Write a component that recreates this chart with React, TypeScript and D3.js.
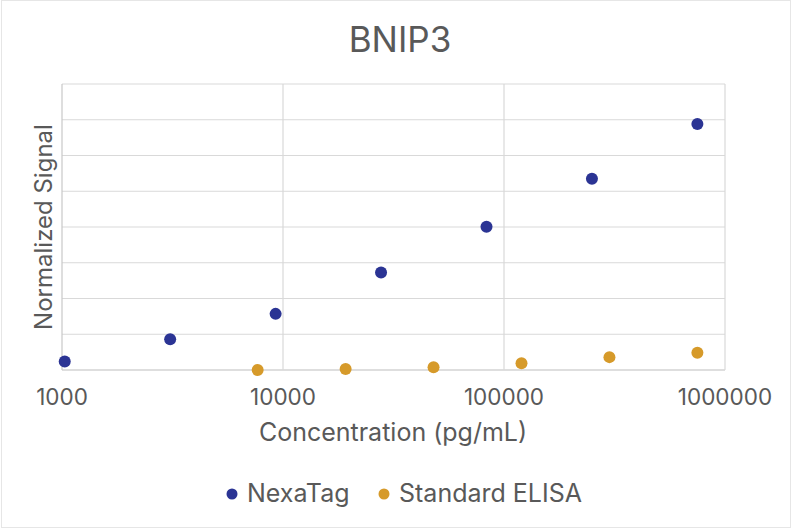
import React, { useEffect, useRef } from 'react';
import * as d3 from 'd3';

// dilution series
const nexaConc = [1029, 3086, 9259, 27778, 83333, 250000, 750000];
const nexaSignal = [0.24, 0.86, 1.57, 2.73, 4.01, 5.35, 6.88];
const elisaConc = [7680, 19200, 48000, 120000, 300000, 750000];
const elisaSignal = [0.0, 0.03, 0.08, 0.19, 0.36, 0.48];
const xTicks = [1000, 10000, 100000, 1000000];
const yTicks = [0, 1, 2, 3, 4, 5, 6, 7, 8];

const series = [
  { name: 'NexaTag', color: '#2B3494', x: nexaConc, y: nexaSignal },
  { name: 'Standard ELISA', color: '#D69A2A', x: elisaConc, y: elisaSignal },
];

const W = 800;
const H = 529;
const FONT = 'Inter, "Open Sans", sans-serif';

const App: React.FC = () => {
  const svgRef = useRef<SVGSVGElement>(null);

  useEffect(() => {
    if (!svgRef.current) return;
    const svg = d3.select(svgRef.current);
    svg.selectAll('*').remove();

    const plot = { left: 62, right: 725, top: 84, bottom: 370 };

    const x = d3.scaleLog().domain([1000, 1000000]).range([plot.left, plot.right]);
    const y = d3.scaleLinear().domain([0, 8]).range([plot.bottom, plot.top]);

    // outer frame
    svg.append('rect')
      .attr('x', 1.5).attr('y', 0.5)
      .attr('width', 789).attr('height', 527)
      .attr('fill', '#fff')
      .attr('stroke', '#e6e6e6');

    // horizontal grid
    svg.append('g').selectAll('line')
      .data(yTicks)
      .join('line')
      .attr('x1', plot.left).attr('x2', plot.right)
      .attr('y1', d => y(d)).attr('y2', d => y(d))
      .attr('stroke', d => (d === 0 ? '#bdbdbd' : '#d9d9d9'))
      .attr('stroke-width', 1.2);

    // vertical grid
    svg.append('g').selectAll('line')
      .data(xTicks)
      .join('line')
      .attr('x1', d => x(d)).attr('x2', d => x(d))
      .attr('y1', plot.top).attr('y2', plot.bottom)
      .attr('stroke', (d, i) => (i === 0 ? '#c8c8c8' : '#d9d9d9'))
      .attr('stroke-width', 1.2);

    // x tick labels
    svg.append('g').selectAll('text')
      .data(xTicks)
      .join('text')
      .attr('x', d => x(d))
      .attr('y', 405)
      .attr('text-anchor', 'middle')
      .attr('font-family', FONT)
      .attr('font-size', 22.5)
      .attr('fill', '#595959')
      .text(d => String(d));

    // titles
    svg.append('text')
      .attr('x', 400).attr('y', 52)
      .attr('text-anchor', 'middle')
      .attr('font-family', FONT)
      .attr('font-size', 35)
      .attr('fill', '#595959')
      .text('BNIP3');

    svg.append('text')
      .attr('x', 393).attr('y', 441)
      .attr('text-anchor', 'middle')
      .attr('font-family', FONT)
      .attr('font-size', 25)
      .attr('fill', '#595959')
      .text('Concentration (pg/mL)');

    svg.append('text')
      .attr('transform', `translate(52,${(plot.top + plot.bottom) / 2}) rotate(-90)`)
      .attr('text-anchor', 'middle')
      .attr('font-family', FONT)
      .attr('font-size', 24)
      .attr('fill', '#595959')
      .text('Normalized Signal');

    // points
    series.forEach(s => {
      svg.append('g').selectAll('circle')
        .data(s.x.map((cx, i) => [cx, s.y[i]]))
        .join('circle')
        .attr('cx', d => x(d[0]))
        .attr('cy', d => y(d[1]))
        .attr('r', 6)
        .attr('fill', s.color);
    });

    // legend
    const legend = svg.append('g');
    const legendX = [232, 384];
    series.forEach((s, i) => {
      legend.append('circle')
        .attr('cx', legendX[i]).attr('cy', 494)
        .attr('r', 5.5)
        .attr('fill', s.color);
      legend.append('text')
        .attr('x', legendX[i] + 15).attr('y', 502)
        .attr('font-family', FONT)
        .attr('font-size', 25)
        .attr('fill', '#595959')
        .text(s.name);
    });
  }, []);

  return (
    <svg
      ref={svgRef}
      width={W}
      height={H}
      style={{ position: 'absolute', left: 0, top: 0, background: '#fff' }}
    />
  );
};

export default App;
